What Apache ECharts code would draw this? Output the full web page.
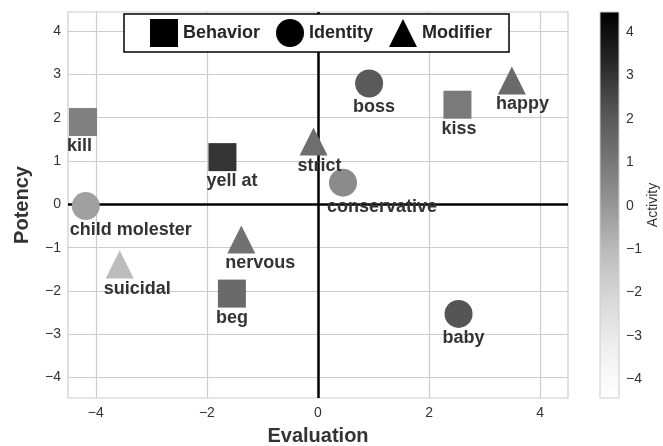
<!DOCTYPE html>
<html><head><meta charset="utf-8">
<script src="https://cdn.jsdelivr.net/npm/echarts@6/dist/echarts.min.js"></script>
<style>html,body{margin:0;padding:0;background:#fff}#c{width:663px;height:446px}</style>
</head><body><div id="c"></div>
<script>
// --- data ---
const behaviorNames = ['kill', 'yell at', 'kiss', 'beg'];
const behaviorEval = [-4.23, -1.72, 2.51, -1.55];
const behaviorPot = [1.90, 1.09, 2.30, -2.06];
const behaviorAct = [0.70, 2.99, 0.89, 1.42];

const identityNames = ['child molester', 'boss', 'conservative', 'baby'];
const identityEval = [-4.18, 0.92, 0.45, 2.53];
const identityPot = [-0.04, 2.79, 0.50, -2.53];
const identityAct = [-0.28, 1.96, 0.38, 2.13];

const modifierNames = ['strict', 'happy', 'nervous', 'suicidal'];
const modifierEval = [-0.08, 3.49, -1.38, -3.57];
const modifierPot = [1.45, 2.86, -0.81, -1.39];
const modifierAct = [1.28, 1.42, 1.21, -1.06];

const xTicks = [-4, -2, 0, 2, 4];
const yTicks = [-4, -3, -2, -1, 0, 1, 2, 3, 4];
const cbTicks = [-4, -3, -2, -1, 0, 1, 2, 3, 4];
const actMin = -4.43, actMax = 4.46;
// ------------

const greys = ['#ffffff','#f0f0f0','#d9d9d9','#bdbdbd','#969696','#737373','#525252','#252525','#000000'];
const fmt = v => String(v).replace('-', '\u2212');
const FONT = 'Liberation Sans, Arial, sans-serif';

function build(names, ev, pot, act) {
  return names.map((n, i) => ({ name: n, value: [ev[i], pot[i], act[i]] }));
}

const labelCfg = {
  show: true, formatter: p => p.name, position: [-2, 38], align: 'left', verticalAlign: 'middle',
  fontFamily: FONT, fontWeight: 'bold', fontSize: 18, color: '#333'
};

function scatter(name, symbol, data) {
  return { name, type: 'scatter', symbol, symbolSize: 28, data, label: labelCfg,
    itemStyle: { opacity: 1 }, z: 3, emphasis: { disabled: true } };
}

const series = [
  scatter('Behavior', 'rect', build(behaviorNames, behaviorEval, behaviorPot, behaviorAct)),
  scatter('Identity', 'circle', build(identityNames, identityEval, identityPot, identityAct)),
  scatter('Modifier', 'triangle', build(modifierNames, modifierEval, modifierPot, modifierAct))
];
series[0].markLine = {
  silent: true, symbol: 'none', z: 2, label: { show: false },
  lineStyle: { color: '#000', width: 2.5, type: 'solid' },
  emphasis: { disabled: true },
  data: [{ xAxis: 0 }, { yAxis: 0 }]
};

const chart = echarts.init(document.getElementById('c'), null, { renderer: 'canvas' });
chart.setOption({
  animation: false,
  backgroundColor: '#fff',
  textStyle: { fontFamily: FONT },
  grid: [
    { left: 68, top: 12, right: 95, bottom: 48, outerBoundsMode: 'none', containLabel: false,
      show: true, borderColor: '#cccccc', borderWidth: 1.2, backgroundColor: '#fff' },
    { left: 600, top: 12, width: 19, height: 386, outerBoundsMode: 'none', containLabel: false,
      show: true, borderColor: '#cccccc', borderWidth: 1,
      backgroundColor: { type: 'linear', x: 0, y: 0, x2: 0, y2: 1,
        colorStops: greys.slice().reverse().map((c, i) => ({ offset: i / (greys.length - 1), color: c })) } }
  ],
  xAxis: [
    { gridIndex: 0, type: 'value', min: -4.5, max: 4.5,
      name: 'Evaluation', nameLocation: 'middle', nameGap: 28,
      nameTextStyle: { fontFamily: FONT, fontWeight: 'bold', fontSize: 20, color: '#333' },
      axisLine: { show: false }, axisTick: { show: false, customValues: xTicks },
      axisLabel: { customValues: xTicks, formatter: fmt, fontSize: 14, color: '#333', margin: 8, fontFamily: FONT },
      splitLine: { show: true, lineStyle: { color: '#cccccc', width: 1.2 } } },
    { gridIndex: 1, type: 'value', show: false, min: 0, max: 1 }
  ],
  yAxis: [
    { gridIndex: 0, type: 'value', min: -4.47, max: 4.44,
      name: 'Potency', nameLocation: 'middle', nameGap: 36,
      nameTextStyle: { fontFamily: FONT, fontWeight: 'bold', fontSize: 20, color: '#333' },
      axisLine: { show: false }, axisTick: { show: false, customValues: yTicks },
      axisLabel: { customValues: yTicks, formatter: fmt, fontSize: 14, color: '#333', margin: 7, fontFamily: FONT },
      splitLine: { show: true, lineStyle: { color: '#cccccc', width: 1.2 } } },
    { gridIndex: 1, type: 'value', min: actMin, max: actMax, position: 'right',
      name: 'Activity', nameLocation: 'middle', nameGap: 26, nameRotate: 90,
      nameTextStyle: { fontFamily: FONT, fontSize: 14, color: '#333' },
      axisLine: { show: false }, axisTick: { show: false, customValues: cbTicks },
      axisLabel: { customValues: cbTicks, formatter: fmt, fontSize: 14, color: '#333', margin: 7, fontFamily: FONT },
      splitLine: { show: false } }
  ],
  visualMap: { show: false, type: 'continuous', dimension: 2, min: actMin, max: actMax,
    seriesIndex: [0, 1, 2], inRange: { color: greys } },
  legend: {
    left: 124, top: 14, orient: 'horizontal',
    padding: [5, 17, 5, 26], itemGap: 16, itemWidth: 28, itemHeight: 28,
    borderColor: '#000', borderWidth: 1.5, backgroundColor: '#fff', z: 10,
    textStyle: { fontFamily: FONT, fontWeight: 'bold', fontSize: 18, color: '#262626' },
    selectedMode: false,
    data: [
      { name: 'Behavior', icon: 'rect', itemStyle: { color: '#000' } },
      { name: 'Identity', icon: 'circle', itemStyle: { color: '#000' } },
      { name: 'Modifier', icon: 'triangle', itemStyle: { color: '#000' } }
    ]
  },
  series
});
</script></body></html>
